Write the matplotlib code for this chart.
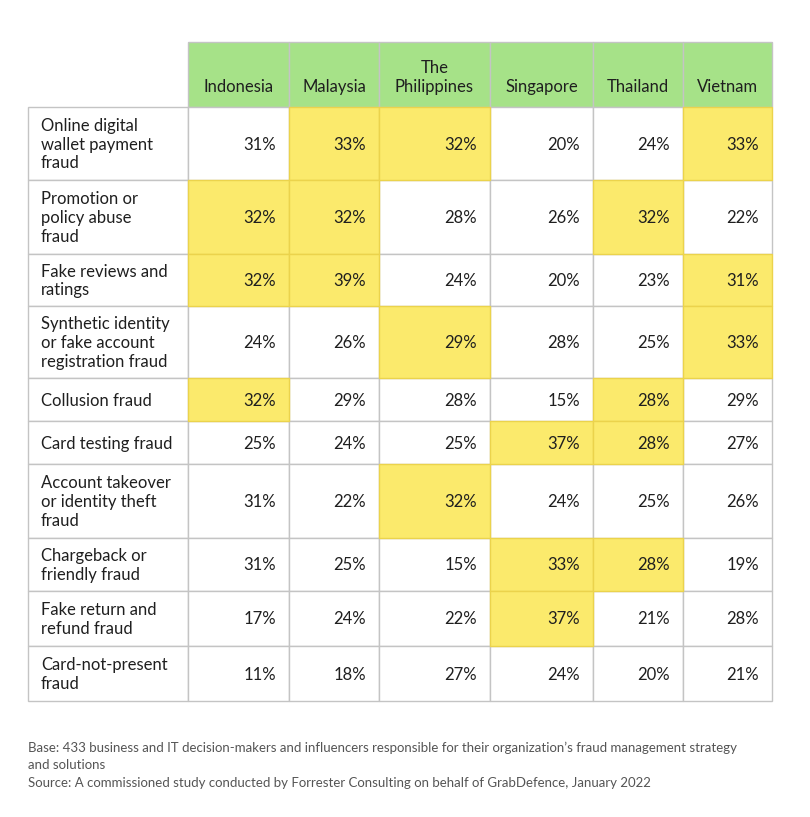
import numpy as np
import matplotlib.pyplot as plt
from matplotlib.patches import Rectangle

plt.rcParams['font.family'] = ['Lato', 'DejaVu Sans']

countries = ['Indonesia', 'Malaysia', 'The\nPhilippines', 'Singapore', 'Thailand', 'Vietnam']
fraud_types = [
    'Online digital\nwallet payment\nfraud',
    'Promotion or\npolicy abuse\nfraud',
    'Fake reviews and\nratings',
    'Synthetic identity\nor fake account\nregistration fraud',
    'Collusion fraud',
    'Card testing fraud',
    'Account takeover\nor identity theft\nfraud',
    'Chargeback or\nfriendly fraud',
    'Fake return and\nrefund fraud',
    'Card-not-present\nfraud',
]
indonesia = [31, 32, 32, 24, 32, 25, 31, 31, 17, 11]
malaysia = [33, 32, 39, 26, 29, 24, 22, 25, 24, 18]
philippines = [32, 28, 24, 29, 28, 25, 32, 15, 22, 27]
singapore = [20, 26, 20, 28, 15, 37, 24, 33, 37, 24]
thailand = [24, 32, 23, 25, 28, 28, 25, 28, 21, 20]
vietnam = [33, 22, 31, 33, 29, 27, 26, 19, 28, 21]

base_note = ("Base: 433 business and IT decision-makers and influencers responsible for their "
             "organization\u2019s fraud management strategy\nand solutions")
source_note = "Source: A commissioned study conducted by Forrester Consulting on behalf of GrabDefence, January 2022"

values = np.array([indonesia, malaysia, philippines, singapore, thailand, vietnam]).T
# top three values (with ties) in each country are highlighted
third = np.sort(values, axis=0)[-3]
highlight = values >= third

# layout in pixels
col_edges = [28, 188, 289, 379, 490, 593, 683, 772]
row_edges = [42, 107, 180, 254, 306, 378, 421, 464, 538, 591, 646, 701]

GREEN = '#A6E288'
YELLOW = '#FBEA6C'
GRID = '#C4C4C4'
TXT = '#1f1f1f'
FS = 12

fig = plt.figure(figsize=(8.1, 8.17), dpi=100)
ax = fig.add_axes([0, 0, 1, 1])
ax.set_xlim(0, 810)
ax.set_ylim(817, 0)
ax.axis('off')

# header
for j, name in enumerate(countries):
    x0, x1 = col_edges[j + 1], col_edges[j + 2]
    ax.add_patch(Rectangle((x0, row_edges[0]), x1 - x0, row_edges[1] - row_edges[0],
                           facecolor=GREEN, edgecolor=GRID, lw=1))
    ax.text((x0 + x1) / 2, 95, name, ha='center', va='bottom', fontsize=FS,
            color=TXT, linespacing=1.2)

# body
for i, label in enumerate(fraud_types):
    y0, y1 = row_edges[i + 1], row_edges[i + 2]
    ym = (y0 + y1) / 2 + 1
    ax.add_patch(Rectangle((col_edges[0], y0), col_edges[1] - col_edges[0], y1 - y0,
                           facecolor='white', edgecolor=GRID, lw=1))
    ax.text(col_edges[0] + 13, ym, label, ha='left', va='center', fontsize=FS,
            color=TXT, linespacing=1.2)
    for j in range(len(countries)):
        x0, x1 = col_edges[j + 1], col_edges[j + 2]
        if highlight[i, j]:
            ax.add_patch(Rectangle((x0, y0), x1 - x0, y1 - y0,
                                   facecolor=YELLOW, edgecolor='#EBD34C', lw=1, zorder=2))
        else:
            ax.add_patch(Rectangle((x0, y0), x1 - x0, y1 - y0,
                                   facecolor='white', edgecolor=GRID, lw=1, zorder=1))
        ax.text(x1 - 13, ym, f'{values[i, j]}%', ha='right', va='center',
                fontsize=FS, color=TXT, zorder=3)

ax.text(28, 742, base_note, ha='left', va='top', fontsize=9.5, color='#555555', linespacing=1.45)
ax.text(28, 777, source_note, ha='left', va='top', fontsize=9.5, color='#555555')

plt.savefig('out.png', dpi=100)
